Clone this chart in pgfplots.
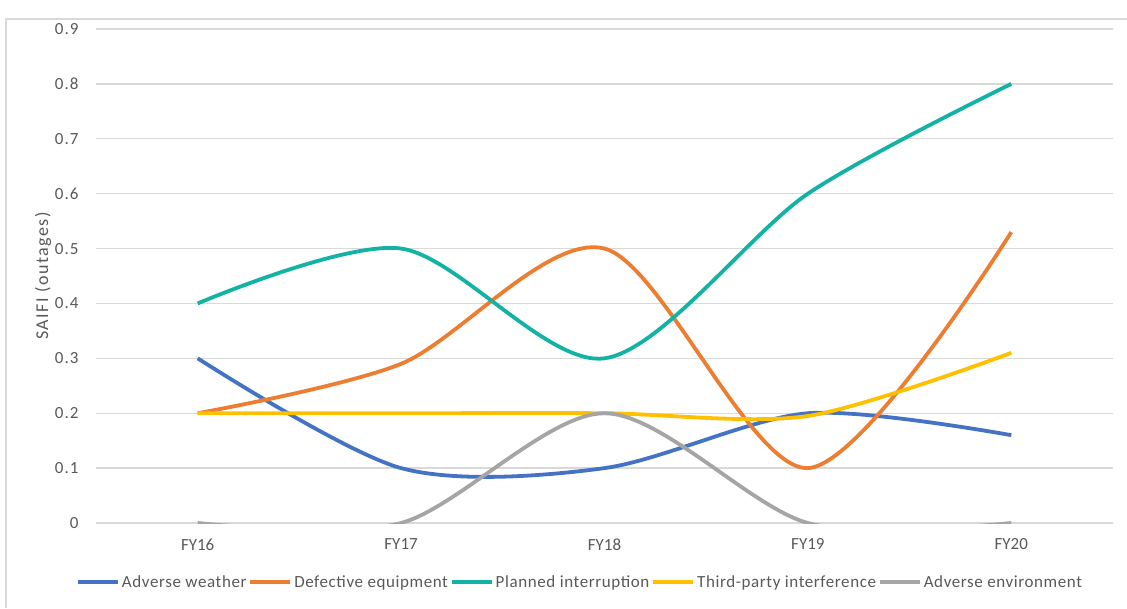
\documentclass[border=0pt]{standalone}
\usepackage{fontspec}
\setmainfont{Carlito}
\newfontfamily\spaced[LetterSpace=6]{Carlito}
\newfontfamily\legspaced[LetterSpace=3.5]{Carlito}
\newfontfamily\labspaced[LetterSpace=8]{Carlito}
\usepackage{pgfplots}
\pgfplotsset{compat=1.18}
\definecolor{cWeather}{HTML}{4472C4}
\definecolor{cEquip}{HTML}{ED7D31}
\definecolor{cPlanned}{HTML}{12B2A4}
\definecolor{cThird}{HTML}{FFC000}
\definecolor{cEnv}{HTML}{A5A5A5}
\definecolor{txtgray}{HTML}{595959}
\definecolor{gridgray}{HTML}{D9D9D9}
\begin{document}
\begin{tikzpicture}
\begin{axis}[
  name=main,
  scale only axis, width=1017pt, height=494pt,
  xmin=-0.5, xmax=4.5, ymin=0, ymax=0.9,
  xtick={0,1,2,3,4},
  xticklabels={FY16,FY17,FY18,FY19,FY20},
  ytick={0,0.1,0.2,0.3,0.4,0.5,0.6,0.7,0.8,0.9},
  yticklabels={0,0.1,0.2,0.3,0.4,0.5,0.6,0.7,0.8,0.9},
  axis line style={draw=none},
  major tick length=0pt,
  xmajorgrids=false, ymajorgrids=true,
  major grid style={draw=gridgray, line width=1.3pt},
  xticklabel style={font=\fontsize{17}{19}\selectfont, text=txtgray, yshift=-12pt},
  yticklabel style={font=\spaced\fontsize{17}{19}\selectfont, text=txtgray, xshift=-14pt},
  /pgf/number format/assume math mode=true,
  ylabel={SAIFI (outages)},
  ylabel style={font=\labspaced\fontsize{18}{20}\selectfont, text=txtgray, at={(axis description cs:-0.052,0.5)}, anchor=center},
  legend columns=5,
  legend style={draw=none, fill=none, at={(axis description cs:0.476,-0.12)}, anchor=center,
    font=\legspaced\fontsize{17}{19}\selectfont, text=txtgray,
    /tikz/every even column/.append style={column sep=0pt},
    inner xsep=0pt},
  legend image code/.code={\draw[#1,line width=3.8pt] (0pt,0pt) -- (40pt,0pt);},
  every axis plot/.append style={line width=3.8pt, smooth, tension=0.5},
]
\addplot[cWeather, no markers] coordinates {(0,0.30) (1,0.10) (2,0.10) (3,0.20) (4,0.16)};
\addlegendentry{Adverse weather}
\addplot[cEquip, no markers] coordinates {(0,0.20) (1,0.29) (2,0.50) (3,0.10) (4,0.53)};
\addlegendentry{Defective equipment}
\addplot[cPlanned, no markers] coordinates {(0,0.40) (1,0.50) (2,0.30) (3,0.60) (4,0.80)};
\addlegendentry{Planned interruption}
\addplot[cThird, no markers] coordinates {(0,0.20) (1,0.20) (2,0.20) (3,0.195) (4,0.31)};
\addlegendentry{Third-party interference}
\addplot[cEnv, no markers] coordinates {(0,0) (1,0) (2,0.20) (3,0) (4,0)};
\addlegendentry{Adverse environment}
\end{axis}
% chart frame and page extent
\path[use as bounding box] ([shift={(-96pt,-85pt)}]main.south west) rectangle ([shift={(1031pt,523pt)}]main.south west);
\draw[gridgray, line width=1.2pt] ([shift={(-90pt,-85pt)}]main.south west) -- ([shift={(-90pt,504pt)}]main.south west) -- ([shift={(1031pt,504pt)}]main.south west);
\end{tikzpicture}
\end{document}
